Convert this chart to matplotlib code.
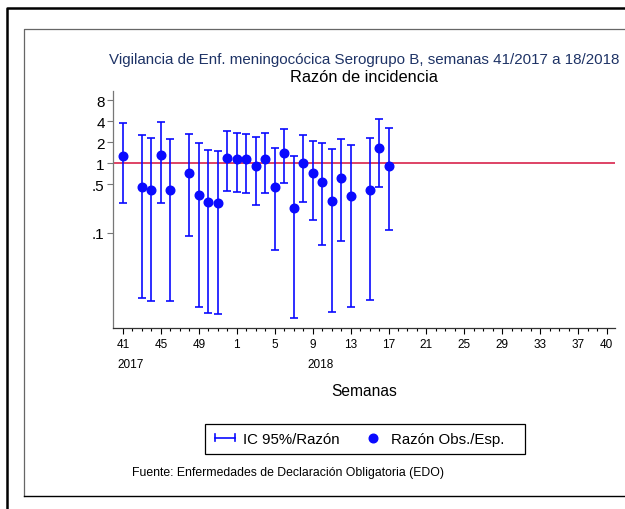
import matplotlib
matplotlib.use("Agg")
import matplotlib.pyplot as plt
import numpy as np
from matplotlib.lines import Line2D
from matplotlib.patches import Rectangle
from matplotlib.legend_handler import HandlerBase

plt.rcParams['font.family'] = ['Liberation Sans', 'DejaVu Sans']

# ---- data ----
weeks = [41, 43, 44, 45, 46, 48, 49, 50, 51, 52, 1, 2, 3, 4, 5, 6, 7, 8, 9, 10, 11, 12, 13, 15, 16, 17]
years = [2017]*10 + [2018]*16
ratio = [1.28, 0.453, 0.414, 1.30, 0.41, 0.726, 0.343, 0.276, 0.27, 1.20, 1.15, 1.13, 0.906, 1.13,
         0.453, 1.405, 0.229, 1.01, 0.726, 0.534, 0.286, 0.616, 0.332, 0.414, 1.66, 0.906]
ci_low = [0.267, 0.0118, 0.0104, 0.27, 0.0104, 0.09, 0.0088, 0.00716, 0.00687, 0.392, 0.384, 0.372, 0.253, 0.376,
          0.0567, 0.51, 0.006, 0.273, 0.153, 0.066, 0.0074, 0.076, 0.00865, 0.0108, 0.457, 0.11]
ci_high = [3.74, 2.54, 2.28, 3.82, 2.21, 2.63, 1.91, 1.52, 1.49, 2.84, 2.74, 2.63, 2.33, 2.66,
           1.66, 3.03, 1.27, 2.52, 2.09, 1.91, 1.57, 2.23, 1.83, 2.28, 4.27, 3.2]
tick_weeks = [41, 45, 49, 1, 5, 9, 13, 17, 21, 25, 29, 33, 37, 40]
tick_years = [2017, 2017, 2017, 2018, 2018, 2018, 2018, 2018, 2018, 2018, 2018, 2018, 2018, 2018]
year_labels = [(41, 2017), (9, 2018)]
yticks = [0.1, 0.5, 1, 2, 4, 8]
ytick_labels = ['.1', '.5', '1', '2', '4', '8']
ref_value = 1.0

def idx(w, y):
    return (w - 41) if y == 2017 else (w + 11)

x = np.array([idx(w, y) for w, y in zip(weeks, years)])
r = np.array(ratio)
lo = np.array(ci_low)
hi = np.array(ci_high)

W, H = 625, 510
fig = plt.figure(figsize=(W/100, H/100), dpi=100)

# frames
fig.add_artist(Line2D([6.5/W, 6.5/W, 1.1], [-0.1, 1-9/H, 1-9/H], transform=fig.transFigure, color='black', lw=1.8))
fig.add_artist(Line2D([1.1, 24/W, 24/W], [1-30/H, 1-30/H, 1-497/H], transform=fig.transFigure, color='#666666', lw=0.9))
fig.add_artist(Line2D([24/W, 1.1], [1-497/H, 1-497/H], transform=fig.transFigure, color='black', lw=1.0))

ax = fig.add_axes([113/W, 1-329/H, (615-113)/W, (329-91.5)/H])
ax.set_yscale('log')

blue = '#0a0aff'
ax.axhline(ref_value, color='#d4103c', lw=1.1, zorder=1)
ax.errorbar(x, r, yerr=[r - lo, hi - r], fmt='none', ecolor=blue, elinewidth=1.2, capsize=2.9, capthick=1.2, zorder=2)
ax.plot(x, r, 'o', color=blue, ms=6.2, mec=blue, zorder=3)

ax.set_ylim(0.00433, 10.96)
ax.set_xlim(-1.05, 51.88)

for s in ['top', 'right']:
    ax.spines[s].set_visible(False)
ax.spines['left'].set_linewidth(0.9)
ax.spines['left'].set_color('#777777')
ax.spines['bottom'].set_linewidth(0.9)
ax.spines['bottom'].set_color('#333333')

ax.set_yticks(yticks)
ax.set_yticklabels(ytick_labels, fontsize=11)
ax.yaxis.set_minor_locator(matplotlib.ticker.NullLocator())
ax.tick_params(axis='y', length=4, width=0.8, pad=2, color='#777777')

tpos = [idx(w, y) for w, y in zip(tick_weeks, tick_years)]
ax.set_xticks(tpos)
ax.set_xticklabels([str(w) for w in tick_weeks], fontsize=8.5)
ax.set_xticks(np.arange(0, 52), minor=True)
ax.tick_params(axis='x', which='major', length=4, width=0.8, pad=3)
ax.tick_params(axis='x', which='minor', length=2.5, width=0.8)

for w, y in year_labels:
    ax.annotate(str(y), xy=(idx(w, y), 0), xycoords=('data', 'axes fraction'),
                xytext=(-4, -21.5), textcoords='offset points', ha='left', va='top', fontsize=8.5)

cx = (113 + 615) / 2 / W
fig.text(cx, 1-60/H, 'Vigilancia de Enf. meningocócica Serogrupo B, semanas 41/2017 a 18/2018',
         ha='center', va='center', fontsize=10.9, color='#1e3366')
fig.text(cx, 1-77/H, 'Razón de incidencia', ha='center', va='center', fontsize=11.8, color='black')
fig.text(cx, 1-392/H, 'Semanas', ha='center', va='center', fontsize=11.2)
fig.text(132/W, 1-473/H, 'Fuente: Enfermedades de Declaración Obligatoria (EDO)',
         ha='left', va='center', fontsize=8.8)

class HCap(HandlerBase):
    def create_artists(self, legend, orig, xd, yd, width, height, fontsize, trans):
        y0 = height / 2 - yd
        x0, x1 = -xd, -xd + width
        c = height * 0.35
        l1 = Line2D([x0, x1], [y0, y0], color=blue, lw=1.2, transform=trans)
        l2 = Line2D([x0, x0], [y0 - c, y0 + c], color=blue, lw=1.2, transform=trans)
        l3 = Line2D([x1, x1], [y0 - c, y0 + c], color=blue, lw=1.2, transform=trans)
        return [l1, l2, l3]

# legend frame
fig.add_artist(Rectangle((205/W, 1-455/H), (525-205)/W, 30/H, transform=fig.transFigure,
                         fill=False, edgecolor='black', lw=0.9))
fs_leg = 10.8
fs_px = fs_leg * 100 / 72
h_ci = Line2D([], [], color=blue)
h_pt = Line2D([], [], marker='o', ls='none', color=blue, ms=6.2)
leg = fig.legend([h_ci, h_pt], ['IC 95%/Razón', 'Razón Obs./Esp.'], ncol=2,
                 loc='center left', bbox_to_anchor=(205/W, 1-440/H),
                 handler_map={h_ci: HCap()}, fontsize=fs_leg, frameon=False,
                 handlelength=20/fs_px, columnspacing=23/fs_px, handletextpad=8/fs_px,
                 borderpad=10/fs_px, borderaxespad=0)

fig.savefig('out.png', dpi=100)
